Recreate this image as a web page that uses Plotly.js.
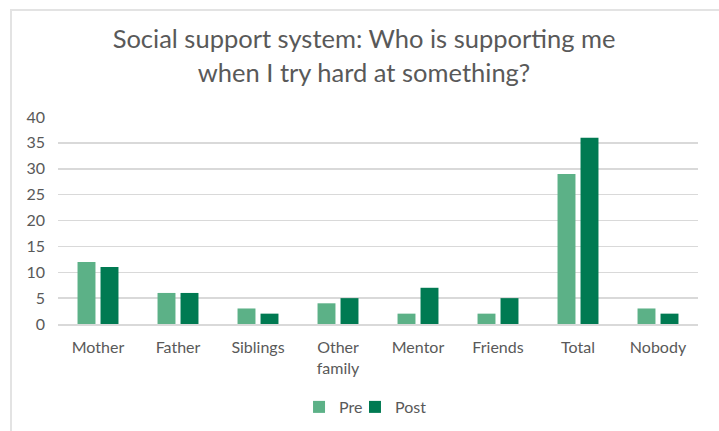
<!DOCTYPE html>
<html>
<head>
<meta charset="utf-8">
<script src="https://cdn.plot.ly/plotly-3.0.1.min.js"></script>
<style>
html,body{margin:0;padding:0;background:#fff;}
#wrap{position:relative;width:719px;height:431px;overflow:hidden;}
#chart{width:719px;height:431px;}
#frame{position:absolute;left:10px;top:9px;right:-5px;bottom:-5px;border-left:2px solid #e3e3e3;border-top:2px solid #e3e3e3;pointer-events:none;}
</style>
</head>
<body>
<div id="wrap"><div id="chart"></div><div id="frame"></div></div>
<script>
const categories = ["Mother", "Father", "Siblings", "Other<br>family", "Mentor", "Friends", "Total", "Nobody"];
const preValues = [12, 6, 3, 4, 2, 2, 29, 3];
const postValues = [11, 6, 2, 5, 7, 5, 36, 2];
const yTicks = [0, 5, 10, 15, 20, 25, 30, 35, 40];

const font = "Lato, 'Open Sans', sans-serif";
const traces = [
  {type: "bar", name: "Pre", x: categories, y: preValues, marker: {color: "#5cb187"}, hoverinfo: "y", legend: "legend"},
  {type: "bar", name: "Post", x: categories, y: postValues, marker: {color: "#007a52"}, hoverinfo: "y", legend: "legend2"}
];
const legendBase = {orientation: "h", xref: "container", yref: "container", xanchor: "left", y: 0.0557, yanchor: "middle",
  font: {family: font, size: 16, color: "#595959"}, itemwidth: 30, bgcolor: "rgba(0,0,0,0)"};
const layout = {
  width: 719, height: 431,
  margin: {l: 58, r: 21, t: 117, b: 107},
  paper_bgcolor: "#ffffff", plot_bgcolor: "#ffffff",
  font: {family: font, color: "#595959", size: 16},
  title: {text: "Social support system: Who is supporting me<br>when I try hard at something?",
    font: {family: font, size: 25.5, color: "#595959"}, x: 0.5063, xanchor: "center", y: 0.8875, yanchor: "middle"},
  barmode: "group", bargap: 0.425, bargroupgap: 0.22,
  xaxis: {type: "category", showgrid: false, showline: true, linecolor: "#d9d9d9", linewidth: 1.5, automargin: false,
    ticks: "", tickfont: {family: font, size: 16, color: "#595959"}, ticklabelstandoff: 8, fixedrange: true},
  yaxis: {range: [0, 40], tickvals: yTicks, ticktext: yTicks.map(String), showgrid: true, gridcolor: "#d9d9d9",
    gridwidth: 1.5, zeroline: false, showline: false, ticks: "", ticklabelstandoff: 12, automargin: false,
    tickfont: {family: font, size: 16, color: "#595959"}, fixedrange: true},
  legend: Object.assign({}, legendBase, {x: 0.4159}),
  legend2: Object.assign({}, legendBase, {x: 0.4937}),
  showlegend: true
};
Plotly.newPlot("chart", traces, layout, {displayModeBar: false, staticPlot: true});
</script>
</body>
</html>
